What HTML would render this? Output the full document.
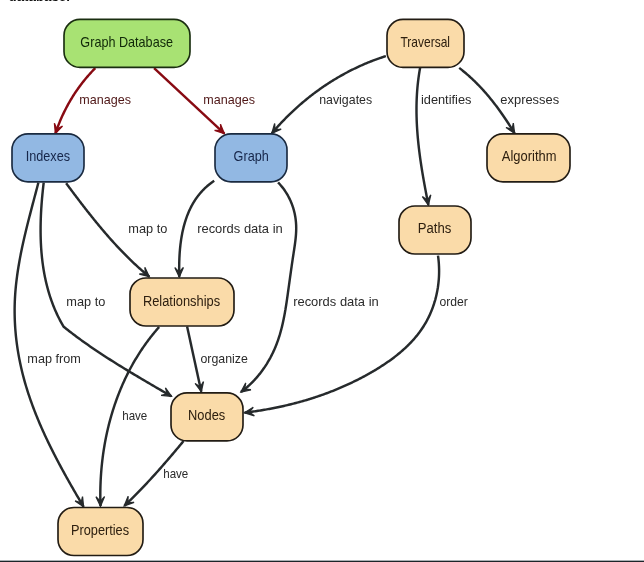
<!DOCTYPE html>
<html><head><meta charset="utf-8"><style>
html,body{margin:0;padding:0;background:#fff;width:644px;height:562px;overflow:hidden}
svg{display:block;will-change:transform}
text{font-family:"Liberation Sans", sans-serif}
</style></head><body>
<svg width="644" height="562" viewBox="0 0 644 562">
<text x="8.5" y="0.8" style="font-weight:bold;font-size:13px" fill="#111" textLength="61.5" lengthAdjust="spacingAndGlyphs">database.</text>

<path d="M95.30,68.10 L94.53,68.88 L93.77,69.66 L93.01,70.44 L92.26,71.23 L91.51,72.03 L90.77,72.83 L90.04,73.64 L89.31,74.45 L88.58,75.26 L87.87,76.08 L87.15,76.91 L86.45,77.74 L85.75,78.57 L85.05,79.41 L84.36,80.26 L83.68,81.11 L83.00,81.96 L82.33,82.82 L81.66,83.68 L81.00,84.55 L80.35,85.42 L79.70,86.30 L79.06,87.18 L78.42,88.06 L77.79,88.95 L77.16,89.84 L76.54,90.74 L75.93,91.64 L75.32,92.54 L74.72,93.45 L74.13,94.37 L73.54,95.28 L72.95,96.20 L72.38,97.13 L71.81,98.06 L71.24,98.99 L70.68,99.92 L70.13,100.86 L69.58,101.80 L69.04,102.75 L68.51,103.70 L67.98,104.65 L67.46,105.61 L66.94,106.57 L66.43,107.53 L65.93,108.50 L65.43,109.47 L64.94,110.44 L64.45,111.42 L63.98,112.40 L63.50,113.38 L63.04,114.37 L62.58,115.35 L62.12,116.35 L61.68,117.34 L61.24,118.34 L60.80,119.34 L60.37,120.34 L59.95,121.34 L59.54,122.35 L59.13,123.36 L58.73,124.38 L58.33,125.39 L57.94,126.41 L57.56,127.43 L57.18,128.45 L56.81,129.48 L56.45,130.50 L56.09,131.53 L55.74,132.57 L55.40,133.60" fill="none" stroke="#880a12" stroke-width="2.45" stroke-linecap="butt" stroke-linejoin="round"/>
<path d="M55.40,133.60 L54.41,123.31 L56.94,129.16 L62.54,126.13 Z" fill="#880a12" stroke="#880a12" stroke-width="1.3" stroke-linejoin="miter"/>
<path d="M154.10,68.10 L224.40,133.70" fill="none" stroke="#880a12" stroke-width="2.45" stroke-linecap="butt" stroke-linejoin="round"/>
<path d="M224.40,133.70 L214.59,130.43 L220.96,130.49 L220.46,124.14 Z" fill="#880a12" stroke="#880a12" stroke-width="1.3" stroke-linejoin="miter"/>
<path d="M385.90,56.10 L384.85,56.44 L383.80,56.78 L382.75,57.12 L381.70,57.47 L380.65,57.83 L379.61,58.19 L378.57,58.55 L377.53,58.92 L376.49,59.30 L375.46,59.68 L374.42,60.06 L373.39,60.45 L372.36,60.85 L371.34,61.24 L370.31,61.65 L369.29,62.06 L368.27,62.47 L367.25,62.89 L366.23,63.31 L365.22,63.74 L364.21,64.17 L363.20,64.61 L362.19,65.05 L361.19,65.50 L360.18,65.95 L359.18,66.40 L358.18,66.86 L357.19,67.33 L356.19,67.80 L355.20,68.27 L354.21,68.75 L353.23,69.23 L352.24,69.72 L351.26,70.21 L350.28,70.71 L349.30,71.21 L348.33,71.71 L347.35,72.22 L346.38,72.74 L345.41,73.25 L344.45,73.78 L343.49,74.30 L342.52,74.84 L341.57,75.37 L340.61,75.91 L339.66,76.46 L338.71,77.00 L337.76,77.56 L336.81,78.11 L335.87,78.68 L334.93,79.24 L333.99,79.81 L333.05,80.39 L332.12,80.96 L331.19,81.55 L330.26,82.13 L329.34,82.72 L328.42,83.32 L327.50,83.92 L326.58,84.52 L325.66,85.13 L324.75,85.74 L323.84,86.35 L322.94,86.97 L322.03,87.60 L321.13,88.22 L320.23,88.86 L319.34,89.49 L318.44,90.13 L317.55,90.77 L316.67,91.42 L315.78,92.07 L314.90,92.72 L314.02,93.38 L313.15,94.05 L312.27,94.71 L311.40,95.38 L310.54,96.06 L309.67,96.73 L308.81,97.41 L307.95,98.10 L307.10,98.79 L306.24,99.48 L305.39,100.18 L304.55,100.88 L303.70,101.58 L302.86,102.29 L302.02,103.00 L301.19,103.71 L300.36,104.43 L299.53,105.15 L298.70,105.88 L297.88,106.61 L297.06,107.34 L296.24,108.08 L295.43,108.82 L294.62,109.56 L293.81,110.31 L293.01,111.06 L292.20,111.81 L291.41,112.57 L290.61,113.33 L289.82,114.09 L289.03,114.86 L288.25,115.63 L287.46,116.40 L286.68,117.18 L285.91,117.96 L285.14,118.74 L284.37,119.53 L283.60,120.32 L282.84,121.11 L282.08,121.91 L281.32,122.71 L280.57,123.52 L279.82,124.32 L279.08,125.13 L278.33,125.94 L277.59,126.76 L276.86,127.58 L276.12,128.40 L275.40,129.23 L274.67,130.06 L273.95,130.89 L273.23,131.72 L272.51,132.56 L271.80,133.40" fill="none" stroke="#262a2c" stroke-width="2.45" stroke-linecap="butt" stroke-linejoin="round"/>
<path d="M271.80,133.40 L274.68,123.47 L274.87,129.84 L281.19,129.08 Z" fill="#262a2c" stroke="#262a2c" stroke-width="1.3" stroke-linejoin="miter"/>
<path d="M420.10,67.90 L419.91,68.98 L419.72,70.06 L419.53,71.15 L419.35,72.23 L419.18,73.31 L419.02,74.39 L418.85,75.48 L418.70,76.56 L418.55,77.64 L418.41,78.73 L418.27,79.81 L418.14,80.89 L418.01,81.98 L417.89,83.06 L417.77,84.14 L417.66,85.23 L417.55,86.31 L417.45,87.40 L417.36,88.48 L417.27,89.57 L417.18,90.65 L417.10,91.73 L417.03,92.82 L416.96,93.90 L416.90,94.99 L416.84,96.07 L416.78,97.16 L416.73,98.24 L416.69,99.33 L416.65,100.41 L416.61,101.50 L416.58,102.58 L416.55,103.67 L416.53,104.75 L416.51,105.84 L416.50,106.92 L416.49,108.01 L416.49,109.09 L416.49,110.18 L416.49,111.26 L416.50,112.35 L416.51,113.43 L416.53,114.52 L416.55,115.60 L416.58,116.69 L416.61,117.77 L416.64,118.85 L416.68,119.94 L416.72,121.02 L416.76,122.11 L416.81,123.19 L416.87,124.28 L416.92,125.36 L416.98,126.45 L417.05,127.53 L417.11,128.61 L417.18,129.70 L417.26,130.78 L417.34,131.86 L417.42,132.95 L417.50,134.03 L417.59,135.11 L417.68,136.20 L417.78,137.28 L417.87,138.36 L417.98,139.45 L418.08,140.53 L418.19,141.61 L418.30,142.69 L418.41,143.77 L418.53,144.86 L418.65,145.94 L418.77,147.02 L418.89,148.10 L419.02,149.18 L419.15,150.26 L419.28,151.34 L419.42,152.42 L419.56,153.50 L419.70,154.58 L419.84,155.66 L419.99,156.74 L420.14,157.82 L420.29,158.90 L420.44,159.98 L420.60,161.06 L420.75,162.14 L420.91,163.21 L421.08,164.29 L421.24,165.37 L421.41,166.45 L421.57,167.52 L421.74,168.60 L421.92,169.68 L422.09,170.75 L422.27,171.83 L422.44,172.90 L422.62,173.98 L422.80,175.05 L422.99,176.13 L423.17,177.20 L423.36,178.28 L423.55,179.35 L423.73,180.42 L423.93,181.50 L424.12,182.57 L424.31,183.64 L424.51,184.71 L424.70,185.78 L424.90,186.85 L425.10,187.93 L425.30,189.00 L425.50,190.07 L425.70,191.13 L425.90,192.20 L426.11,193.27 L426.31,194.34 L426.52,195.41 L426.72,196.48 L426.93,197.54 L427.14,198.61 L427.35,199.68 L427.56,200.74 L427.77,201.81 L427.98,202.87 L428.19,203.94 L428.40,205.00" fill="none" stroke="#262a2c" stroke-width="2.45" stroke-linecap="butt" stroke-linejoin="round"/>
<path d="M428.40,205.00 L422.36,196.61 L427.49,200.39 L430.79,194.94 Z" fill="#262a2c" stroke="#262a2c" stroke-width="1.3" stroke-linejoin="miter"/>
<path d="M459.20,67.90 L460.17,68.65 L461.13,69.40 L462.09,70.16 L463.04,70.93 L463.99,71.70 L464.92,72.48 L465.86,73.27 L466.78,74.06 L467.70,74.86 L468.61,75.66 L469.52,76.47 L470.42,77.29 L471.31,78.11 L472.20,78.94 L473.08,79.77 L473.96,80.61 L474.83,81.45 L475.69,82.30 L476.55,83.16 L477.40,84.02 L478.25,84.89 L479.09,85.76 L479.93,86.63 L480.76,87.52 L481.58,88.40 L482.40,89.29 L483.22,90.19 L484.03,91.09 L484.83,92.00 L485.63,92.91 L486.42,93.82 L487.21,94.74 L488.00,95.66 L488.77,96.59 L489.55,97.52 L490.32,98.46 L491.08,99.40 L491.84,100.35 L492.59,101.29 L493.34,102.25 L494.09,103.20 L494.83,104.16 L495.57,105.13 L496.30,106.09 L497.03,107.06 L497.75,108.04 L498.47,109.02 L499.18,110.00 L499.89,110.98 L500.60,111.97 L501.30,112.96 L502.00,113.95 L502.70,114.95 L503.39,115.95 L504.08,116.95 L504.76,117.95 L505.44,118.96 L506.12,119.97 L506.79,120.98 L507.46,122.00 L508.12,123.02 L508.78,124.03 L509.44,125.06 L510.10,126.08 L510.75,127.11 L511.40,128.13 L512.05,129.16 L512.69,130.20 L513.33,131.23 L513.97,132.26 L514.60,133.30" fill="none" stroke="#262a2c" stroke-width="2.45" stroke-linecap="butt" stroke-linejoin="round"/>
<path d="M514.60,133.30 L506.00,127.57 L512.13,129.30 L513.31,123.04 Z" fill="#262a2c" stroke="#262a2c" stroke-width="1.3" stroke-linejoin="miter"/>
<path d="M66.10,183.20 L66.73,184.04 L67.36,184.88 L67.98,185.73 L68.61,186.57 L69.24,187.41 L69.87,188.25 L70.50,189.10 L71.13,189.94 L71.77,190.78 L72.40,191.62 L73.03,192.47 L73.66,193.31 L74.30,194.15 L74.93,194.99 L75.57,195.83 L76.21,196.67 L76.84,197.51 L77.48,198.35 L78.12,199.19 L78.76,200.03 L79.40,200.87 L80.04,201.71 L80.68,202.55 L81.32,203.38 L81.97,204.22 L82.61,205.06 L83.26,205.89 L83.90,206.73 L84.55,207.56 L85.20,208.39 L85.85,209.23 L86.50,210.06 L87.15,210.89 L87.80,211.72 L88.46,212.55 L89.11,213.38 L89.77,214.21 L90.43,215.04 L91.08,215.86 L91.74,216.69 L92.40,217.51 L93.07,218.34 L93.73,219.16 L94.39,219.98 L95.06,220.80 L95.73,221.62 L96.40,222.44 L97.07,223.26 L97.74,224.07 L98.41,224.89 L99.08,225.70 L99.76,226.52 L100.43,227.33 L101.11,228.14 L101.79,228.94 L102.47,229.75 L103.16,230.56 L103.84,231.36 L104.53,232.16 L105.21,232.97 L105.90,233.77 L106.59,234.56 L107.29,235.36 L107.98,236.16 L108.68,236.95 L109.37,237.74 L110.07,238.53 L110.77,239.32 L111.48,240.11 L112.18,240.89 L112.89,241.68 L113.60,242.46 L114.31,243.24 L115.02,244.02 L115.73,244.79 L116.45,245.57 L117.16,246.34 L117.88,247.11 L118.61,247.88 L119.33,248.65 L120.05,249.41 L120.78,250.17 L121.51,250.93 L122.24,251.69 L122.98,252.45 L123.71,253.20 L124.45,253.95 L125.19,254.70 L125.93,255.45 L126.68,256.20 L127.42,256.94 L128.17,257.68 L128.92,258.42 L129.68,259.15 L130.43,259.89 L131.19,260.62 L131.95,261.35 L132.71,262.07 L133.48,262.80 L134.24,263.52 L135.01,264.23 L135.79,264.95 L136.56,265.66 L137.34,266.37 L138.12,267.08 L138.90,267.79 L139.68,268.49 L140.47,269.19 L141.26,269.89 L142.05,270.58 L142.85,271.27 L143.64,271.96 L144.44,272.65 L145.25,273.33 L146.05,274.01 L146.86,274.69 L147.67,275.36 L148.48,276.03 L149.30,276.70" fill="none" stroke="#262a2c" stroke-width="2.45" stroke-linecap="butt" stroke-linejoin="round"/>
<path d="M149.30,276.70 L139.32,274.00 L145.68,273.70 L144.82,267.39 Z" fill="#262a2c" stroke="#262a2c" stroke-width="1.3" stroke-linejoin="miter"/>
<path d="M43.70,182.60 L43.53,184.01 L43.37,185.42 L43.21,186.84 L43.05,188.26 L42.90,189.68 L42.75,191.10 L42.60,192.52 L42.46,193.95 L42.33,195.37 L42.19,196.80 L42.06,198.23 L41.94,199.66 L41.82,201.10 L41.71,202.53 L41.60,203.96 L41.49,205.40 L41.40,206.84 L41.30,208.28 L41.21,209.72 L41.13,211.16 L41.05,212.60 L40.98,214.04 L40.91,215.49 L40.85,216.93 L40.80,218.38 L40.75,219.82 L40.71,221.27 L40.67,222.71 L40.64,224.16 L40.62,225.60 L40.60,227.05 L40.59,228.50 L40.59,229.94 L40.59,231.39 L40.60,232.83 L40.62,234.28 L40.64,235.73 L40.68,237.17 L40.71,238.61 L40.76,240.06 L40.82,241.50 L40.88,242.94 L40.95,244.39 L41.03,245.83 L41.11,247.27 L41.21,248.71 L41.31,250.14 L41.42,251.58 L41.54,253.02 L41.67,254.45 L41.81,255.88 L41.95,257.32 L42.11,258.75 L42.27,260.17 L42.45,261.60 L42.63,263.03 L42.82,264.45 L43.02,265.87 L43.23,267.29 L43.45,268.71 L43.68,270.12 L43.92,271.54 L44.17,272.95 L44.43,274.36 L44.70,275.76 L44.98,277.17 L45.28,278.57 L45.58,279.97 L45.89,281.36 L46.21,282.76 L46.55,284.15 L46.89,285.53 L47.25,286.92 L47.61,288.30 L47.99,289.68 L48.38,291.05 L48.78,292.42 L49.20,293.79 L49.62,295.16 L50.06,296.52 L50.51,297.88 L50.97,299.23 L51.44,300.58 L51.92,301.93 L52.42,303.27 L52.93,304.61 L53.45,305.95 L53.99,307.28 L54.53,308.60 L55.09,309.93 L55.67,311.24 L56.25,312.56 L56.85,313.87 L57.47,315.17 L58.09,316.47 L58.73,317.77 L59.39,319.06 L60.05,320.35 L60.74,321.63 L61.43,322.90 L62.14,324.17 L62.86,325.44 L63.60,326.70 L65.02,327.83 L66.44,328.96 L67.86,330.08 L69.29,331.19 L70.72,332.29 L72.16,333.39 L73.60,334.49 L75.05,335.58 L76.50,336.66 L77.95,337.73 L79.41,338.80 L80.87,339.87 L82.34,340.92 L83.81,341.98 L85.28,343.02 L86.76,344.07 L88.24,345.10 L89.73,346.14 L91.21,347.16 L92.71,348.19 L94.20,349.20 L95.70,350.22 L97.20,351.22 L98.70,352.23 L100.21,353.23 L101.72,354.22 L103.23,355.21 L104.74,356.20 L106.26,357.18 L107.78,358.16 L109.31,359.14 L110.83,360.11 L112.36,361.08 L113.89,362.05 L115.42,363.01 L116.95,363.97 L118.49,364.92 L120.03,365.87 L121.57,366.82 L123.11,367.77 L124.65,368.72 L126.20,369.66 L127.75,370.60 L129.29,371.53 L130.84,372.47 L132.39,373.40 L133.95,374.33 L135.50,375.26 L137.06,376.18 L138.61,377.11 L140.17,378.03 L141.73,378.95 L143.28,379.87 L144.84,380.79 L146.40,381.71 L147.96,382.62 L149.53,383.54 L151.09,384.45 L152.65,385.37 L154.21,386.28 L155.78,387.19 L157.34,388.10 L158.90,389.01 L160.46,389.93 L162.03,390.84 L163.59,391.75 L165.15,392.66 L166.72,393.57 L168.28,394.48 L169.84,395.39 L171.40,396.30" fill="none" stroke="#262a2c" stroke-width="2.45" stroke-linecap="butt" stroke-linejoin="round"/>
<path d="M171.40,396.30 L161.11,395.28 L167.34,393.93 L165.45,387.85 Z" fill="#262a2c" stroke="#262a2c" stroke-width="1.3" stroke-linejoin="miter"/>
<path d="M38.40,182.60 L38.02,184.06 L37.64,185.53 L37.25,186.99 L36.87,188.46 L36.48,189.93 L36.09,191.39 L35.70,192.86 L35.31,194.34 L34.92,195.81 L34.53,197.28 L34.14,198.76 L33.75,200.24 L33.36,201.71 L32.96,203.19 L32.57,204.67 L32.18,206.16 L31.79,207.64 L31.40,209.12 L31.01,210.61 L30.62,212.09 L30.24,213.58 L29.85,215.07 L29.47,216.56 L29.09,218.05 L28.70,219.54 L28.33,221.04 L27.95,222.53 L27.57,224.02 L27.20,225.52 L26.83,227.02 L26.46,228.51 L26.10,230.01 L25.74,231.51 L25.38,233.01 L25.02,234.51 L24.67,236.02 L24.32,237.52 L23.98,239.02 L23.64,240.53 L23.30,242.03 L22.97,243.54 L22.64,245.04 L22.31,246.55 L21.99,248.06 L21.68,249.57 L21.37,251.08 L21.06,252.59 L20.76,254.10 L20.47,255.61 L20.18,257.12 L19.89,258.63 L19.62,260.14 L19.34,261.66 L19.08,263.17 L18.82,264.69 L18.56,266.20 L18.32,267.72 L18.08,269.23 L17.84,270.75 L17.62,272.26 L17.40,273.78 L17.18,275.30 L16.98,276.81 L16.78,278.33 L16.59,279.85 L16.41,281.37 L16.23,282.89 L16.07,284.41 L15.91,285.93 L15.76,287.45 L15.62,288.96 L15.49,290.48 L15.36,292.00 L15.25,293.52 L15.15,295.04 L15.05,296.57 L14.96,298.09 L14.89,299.61 L14.82,301.13 L14.76,302.65 L14.72,304.17 L14.68,305.69 L14.65,307.21 L14.63,308.73 L14.62,310.25 L14.63,311.77 L14.64,313.29 L14.66,314.81 L14.69,316.33 L14.73,317.85 L14.78,319.36 L14.84,320.88 L14.90,322.40 L14.98,323.92 L15.07,325.43 L15.16,326.95 L15.27,328.47 L15.38,329.98 L15.51,331.49 L15.64,333.01 L15.78,334.52 L15.93,336.03 L16.09,337.54 L16.26,339.05 L16.44,340.56 L16.63,342.07 L16.82,343.58 L17.03,345.09 L17.24,346.59 L17.46,348.10 L17.69,349.60 L17.93,351.10 L18.18,352.60 L18.44,354.10 L18.70,355.60 L18.98,357.10 L19.26,358.60 L19.55,360.09 L19.85,361.58 L20.16,363.08 L20.48,364.57 L20.80,366.06 L21.13,367.54 L21.48,369.03 L21.82,370.51 L22.18,372.00 L22.55,373.48 L22.92,374.96 L23.30,376.43 L23.69,377.91 L24.09,379.38 L24.50,380.86 L24.91,382.33 L25.34,383.79 L25.76,385.26 L26.20,386.73 L26.65,388.19 L27.10,389.65 L27.56,391.11 L28.03,392.56 L28.50,394.02 L28.98,395.47 L29.47,396.92 L29.97,398.37 L30.47,399.82 L30.98,401.27 L31.49,402.71 L32.01,404.15 L32.54,405.59 L33.08,407.03 L33.62,408.47 L34.17,409.90 L34.72,411.33 L35.28,412.77 L35.85,414.19 L36.42,415.62 L37.00,417.05 L37.58,418.47 L38.17,419.89 L38.76,421.31 L39.36,422.73 L39.97,424.14 L40.58,425.55 L41.20,426.97 L41.82,428.38 L42.44,429.78 L43.07,431.19 L43.71,432.59 L44.35,433.99 L44.99,435.39 L45.64,436.79 L46.30,438.19 L46.96,439.58 L47.62,440.97 L48.29,442.37 L48.96,443.75 L49.64,445.14 L50.32,446.52 L51.00,447.91 L51.69,449.29 L52.38,450.67 L53.07,452.04 L53.77,453.42 L54.47,454.79 L55.18,456.16 L55.88,457.53 L56.60,458.90 L57.31,460.26 L58.03,461.63 L58.75,462.99 L59.47,464.35 L60.20,465.70 L60.93,467.06 L61.66,468.41 L62.39,469.76 L63.13,471.11 L63.87,472.46 L64.61,473.81 L65.35,475.15 L66.10,476.49 L66.84,477.83 L67.59,479.17 L68.34,480.50 L69.09,481.84 L69.85,483.17 L70.60,484.50 L71.36,485.83 L72.12,487.15 L72.88,488.48 L73.64,489.80 L74.40,491.12 L75.16,492.43 L75.93,493.75 L76.69,495.06 L77.46,496.38 L78.22,497.69 L78.99,498.99 L79.76,500.30 L80.53,501.60 L81.29,502.91 L82.06,504.21 L82.83,505.50 L83.60,506.80" fill="none" stroke="#262a2c" stroke-width="2.45" stroke-linecap="butt" stroke-linejoin="round"/>
<path d="M83.60,506.80 L75.11,500.90 L81.21,502.75 L82.52,496.52 Z" fill="#262a2c" stroke="#262a2c" stroke-width="1.3" stroke-linejoin="miter"/>
<path d="M214.20,180.80 L213.50,181.27 L212.81,181.74 L212.13,182.22 L211.46,182.71 L210.80,183.21 L210.15,183.71 L209.50,184.21 L208.87,184.72 L208.24,185.24 L207.62,185.77 L207.01,186.29 L206.41,186.83 L205.81,187.37 L205.23,187.92 L204.65,188.47 L204.08,189.03 L203.52,189.59 L202.96,190.16 L202.42,190.73 L201.88,191.31 L201.35,191.90 L200.83,192.49 L200.32,193.08 L199.81,193.68 L199.31,194.29 L198.82,194.90 L198.34,195.51 L197.87,196.13 L197.40,196.75 L196.94,197.38 L196.48,198.02 L196.04,198.65 L195.60,199.30 L195.17,199.94 L194.75,200.59 L194.33,201.25 L193.92,201.91 L193.52,202.57 L193.12,203.24 L192.73,203.91 L192.35,204.59 L191.97,205.27 L191.60,205.95 L191.24,206.64 L190.89,207.33 L190.54,208.02 L190.20,208.72 L189.86,209.42 L189.53,210.13 L189.21,210.84 L188.89,211.55 L188.58,212.26 L188.28,212.98 L187.98,213.70 L187.69,214.43 L187.40,215.16 L187.12,215.89 L186.85,216.62 L186.58,217.36 L186.32,218.10 L186.06,218.84 L185.81,219.58 L185.57,220.33 L185.33,221.08 L185.09,221.83 L184.86,222.59 L184.64,223.34 L184.42,224.10 L184.21,224.86 L184.00,225.63 L183.80,226.39 L183.60,227.16 L183.41,227.93 L183.23,228.70 L183.05,229.47 L182.87,230.25 L182.70,231.03 L182.53,231.80 L182.37,232.59 L182.21,233.37 L182.06,234.15 L181.91,234.93 L181.77,235.72 L181.63,236.51 L181.50,237.30 L181.37,238.09 L181.24,238.88 L181.12,239.67 L181.00,240.46 L180.89,241.25 L180.78,242.05 L180.68,242.84 L180.58,243.64 L180.48,244.44 L180.39,245.23 L180.30,246.03 L180.21,246.83 L180.13,247.63 L180.06,248.43 L179.98,249.23 L179.91,250.03 L179.85,250.83 L179.78,251.63 L179.72,252.43 L179.67,253.23 L179.61,254.03 L179.57,254.82 L179.52,255.62 L179.48,256.42 L179.44,257.22 L179.40,258.02 L179.37,258.82 L179.34,259.62 L179.31,260.41 L179.28,261.21 L179.26,262.00 L179.24,262.80 L179.22,263.59 L179.21,264.39 L179.20,265.18 L179.19,265.97 L179.18,266.76 L179.18,267.55 L179.18,268.33 L179.18,269.12 L179.18,269.91 L179.19,270.69 L179.19,271.47 L179.20,272.25 L179.21,273.03 L179.23,273.81 L179.24,274.58 L179.26,275.36 L179.28,276.13 L179.30,276.90" fill="none" stroke="#262a2c" stroke-width="2.45" stroke-linecap="butt" stroke-linejoin="round"/>
<path d="M179.30,276.90 L174.82,267.59 L179.21,272.20 L183.41,267.42 Z" fill="#262a2c" stroke="#262a2c" stroke-width="1.3" stroke-linejoin="miter"/>
<path d="M278.10,182.40 L278.75,183.09 L279.39,183.79 L280.02,184.49 L280.64,185.20 L281.24,185.92 L281.83,186.64 L282.41,187.37 L282.98,188.10 L283.53,188.84 L284.07,189.58 L284.60,190.33 L285.12,191.09 L285.62,191.85 L286.12,192.61 L286.60,193.38 L287.06,194.16 L287.52,194.94 L287.97,195.72 L288.40,196.51 L288.82,197.30 L289.23,198.10 L289.62,198.90 L290.01,199.71 L290.38,200.51 L290.74,201.33 L291.09,202.15 L291.42,202.97 L291.75,203.79 L292.06,204.62 L292.37,205.45 L292.66,206.29 L292.93,207.12 L293.20,207.96 L293.46,208.81 L293.70,209.66 L293.93,210.51 L294.15,211.36 L294.36,212.21 L294.56,213.07 L294.75,213.93 L294.92,214.79 L295.08,215.66 L295.24,216.53 L295.38,217.39 L295.51,218.27 L295.63,219.14 L295.73,220.01 L295.83,220.89 L295.92,221.77 L295.99,222.64 L296.05,223.52 L296.10,224.41 L296.15,225.29 L296.18,226.17 L296.19,227.06 L296.20,227.94 L296.20,228.83 L296.19,229.72 L296.17,230.60 L296.14,231.49 L296.10,232.38 L296.05,233.27 L295.99,234.16 L295.93,235.05 L295.86,235.94 L295.78,236.83 L295.70,237.73 L295.61,238.62 L295.51,239.51 L295.41,240.41 L295.30,241.30 L295.19,242.19 L295.07,243.09 L294.95,243.98 L294.83,244.88 L294.71,245.77 L294.58,246.67 L294.44,247.56 L294.31,248.46 L294.18,249.35 L294.04,250.25 L293.90,251.14 L293.76,252.04 L293.63,252.93 L293.49,253.83 L293.35,254.72 L293.22,255.62 L293.08,256.51 L292.95,257.40 L292.81,258.30 L292.68,259.19 L292.55,260.08 L292.41,260.98 L292.28,261.87 L292.15,262.76 L292.02,263.65 L291.89,264.55 L291.76,265.44 L291.63,266.33 L291.51,267.22 L291.38,268.11 L291.25,269.01 L291.12,269.90 L291.00,270.79 L290.87,271.68 L290.75,272.57 L290.62,273.46 L290.50,274.35 L290.37,275.24 L290.25,276.13 L290.12,277.03 L290.00,277.92 L289.87,278.81 L289.75,279.70 L289.63,280.59 L289.50,281.48 L289.38,282.37 L289.26,283.26 L289.13,284.15 L289.01,285.04 L288.89,285.93 L288.76,286.82 L288.64,287.71 L288.52,288.60 L288.39,289.49 L288.27,290.38 L288.15,291.27 L288.02,292.17 L287.90,293.06 L287.78,293.95 L287.65,294.84 L287.53,295.73 L287.40,296.62 L287.27,297.51 L287.14,298.40 L287.02,299.29 L286.89,300.18 L286.75,301.07 L286.62,301.96 L286.49,302.84 L286.35,303.73 L286.22,304.62 L286.08,305.51 L285.94,306.39 L285.80,307.28 L285.65,308.17 L285.50,309.05 L285.36,309.94 L285.20,310.82 L285.05,311.70 L284.90,312.59 L284.74,313.47 L284.58,314.35 L284.41,315.23 L284.25,316.11 L284.08,316.99 L283.90,317.87 L283.73,318.74 L283.55,319.62 L283.36,320.49 L283.18,321.37 L282.99,322.24 L282.79,323.11 L282.60,323.98 L282.39,324.85 L282.19,325.72 L281.98,326.59 L281.77,327.45 L281.55,328.32 L281.33,329.18 L281.10,330.04 L280.87,330.90 L280.63,331.76 L280.39,332.62 L280.14,333.48 L279.89,334.33 L279.64,335.19 L279.37,336.04 L279.11,336.89 L278.84,337.74 L278.56,338.58 L278.27,339.43 L277.99,340.27 L277.69,341.12 L277.39,341.96 L277.08,342.79 L276.77,343.63 L276.45,344.47 L276.12,345.30 L275.79,346.13 L275.45,346.96 L275.11,347.78 L274.76,348.61 L274.40,349.43 L274.03,350.25 L273.66,351.07 L273.28,351.89 L272.90,352.70 L272.50,353.51 L272.11,354.32 L271.70,355.13 L271.29,355.93 L270.87,356.73 L270.45,357.53 L270.01,358.32 L269.58,359.11 L269.13,359.90 L268.68,360.68 L268.22,361.47 L267.76,362.24 L267.29,363.02 L266.82,363.79 L266.33,364.55 L265.84,365.32 L265.35,366.07 L264.85,366.83 L264.34,367.58 L263.83,368.32 L263.31,369.07 L262.79,369.80 L262.26,370.54 L261.72,371.26 L261.18,371.99 L260.63,372.71 L260.08,373.42 L259.52,374.13 L258.95,374.83 L258.38,375.53 L257.80,376.22 L257.22,376.91 L256.63,377.59 L256.04,378.27 L255.44,378.94 L254.83,379.61 L254.22,380.27 L253.61,380.92 L252.98,381.57 L252.36,382.21 L251.72,382.85 L251.09,383.47 L250.44,384.10 L249.80,384.71 L249.14,385.32 L248.48,385.93 L247.82,386.52 L247.15,387.11 L246.48,387.70 L245.80,388.27 L245.11,388.84 L244.42,389.40 L243.73,389.96 L243.03,390.50 L242.32,391.04 L241.61,391.58 L240.90,392.10" fill="none" stroke="#262a2c" stroke-width="2.45" stroke-linecap="butt" stroke-linejoin="round"/>
<path d="M240.90,392.10 L245.70,382.95 L244.62,389.22 L250.97,389.75 Z" fill="#262a2c" stroke="#262a2c" stroke-width="1.3" stroke-linejoin="miter"/>
<path d="M187.10,326.60 L201.30,391.70" fill="none" stroke="#262a2c" stroke-width="2.45" stroke-linecap="butt" stroke-linejoin="round"/>
<path d="M201.30,391.70 L195.10,383.43 L200.30,387.11 L203.50,381.60 Z" fill="#262a2c" stroke="#262a2c" stroke-width="1.3" stroke-linejoin="miter"/>
<path d="M159.10,327.00 L158.33,327.88 L157.56,328.76 L156.80,329.64 L156.05,330.53 L155.30,331.42 L154.55,332.31 L153.81,333.21 L153.08,334.11 L152.35,335.02 L151.62,335.93 L150.91,336.84 L150.19,337.76 L149.49,338.68 L148.79,339.60 L148.09,340.53 L147.40,341.46 L146.71,342.39 L146.03,343.33 L145.36,344.27 L144.69,345.21 L144.02,346.16 L143.36,347.11 L142.71,348.06 L142.06,349.02 L141.42,349.98 L140.78,350.94 L140.15,351.91 L139.52,352.88 L138.90,353.85 L138.28,354.82 L137.67,355.80 L137.06,356.78 L136.46,357.77 L135.87,358.75 L135.28,359.74 L134.69,360.74 L134.11,361.73 L133.54,362.73 L132.97,363.73 L132.40,364.74 L131.84,365.75 L131.29,366.76 L130.74,367.77 L130.20,368.78 L129.66,369.80 L129.12,370.82 L128.60,371.85 L128.07,372.87 L127.55,373.90 L127.04,374.93 L126.53,375.97 L126.03,377.00 L125.53,378.04 L125.04,379.08 L124.55,380.13 L124.07,381.17 L123.59,382.22 L123.12,383.27 L122.65,384.32 L122.19,385.38 L121.73,386.44 L121.28,387.50 L120.84,388.56 L120.39,389.62 L119.96,390.69 L119.52,391.76 L119.10,392.83 L118.68,393.90 L118.26,394.97 L117.85,396.05 L117.44,397.13 L117.04,398.21 L116.64,399.29 L116.25,400.38 L115.86,401.46 L115.48,402.55 L115.10,403.64 L114.73,404.73 L114.36,405.83 L114.00,406.92 L113.64,408.02 L113.29,409.12 L112.94,410.22 L112.60,411.32 L112.26,412.43 L111.93,413.53 L111.60,414.64 L111.28,415.75 L110.96,416.86 L110.64,417.97 L110.33,419.08 L110.03,420.20 L109.73,421.32 L109.44,422.43 L109.15,423.55 L108.86,424.67 L108.58,425.79 L108.31,426.92 L108.04,428.04 L107.77,429.17 L107.51,430.29 L107.25,431.42 L107.00,432.55 L106.76,433.68 L106.51,434.81 L106.28,435.95 L106.04,437.08 L105.82,438.22 L105.59,439.35 L105.38,440.49 L105.16,441.63 L104.95,442.76 L104.75,443.90 L104.55,445.04 L104.36,446.19 L104.17,447.33 L103.98,448.47 L103.80,449.62 L103.62,450.76 L103.45,451.91 L103.28,453.05 L103.12,454.20 L102.96,455.35 L102.81,456.49 L102.66,457.64 L102.52,458.79 L102.38,459.94 L102.25,461.09 L102.12,462.24 L101.99,463.39 L101.87,464.55 L101.75,465.70 L101.64,466.85 L101.53,468.00 L101.43,469.16 L101.33,470.31 L101.24,471.47 L101.15,472.62 L101.07,473.77 L100.99,474.93 L100.91,476.08 L100.84,477.24 L100.77,478.39 L100.71,479.55 L100.65,480.71 L100.60,481.86 L100.55,483.02 L100.51,484.17 L100.47,485.33 L100.43,486.48 L100.40,487.64 L100.37,488.79 L100.35,489.95 L100.33,491.11 L100.32,492.26 L100.31,493.42 L100.31,494.57 L100.31,495.72 L100.31,496.88 L100.32,498.03 L100.33,499.19 L100.35,500.34 L100.37,501.49 L100.40,502.64 L100.43,503.80 L100.46,504.95 L100.50,506.10" fill="none" stroke="#262a2c" stroke-width="2.45" stroke-linecap="butt" stroke-linejoin="round"/>
<path d="M100.50,506.10 L95.96,496.82 L100.38,501.40 L104.55,496.59 Z" fill="#262a2c" stroke="#262a2c" stroke-width="1.3" stroke-linejoin="miter"/>
<path d="M183.60,441.00 L182.71,442.07 L181.82,443.15 L180.92,444.22 L180.03,445.29 L179.13,446.36 L178.24,447.44 L177.34,448.51 L176.44,449.57 L175.54,450.64 L174.64,451.71 L173.74,452.77 L172.84,453.84 L171.94,454.90 L171.03,455.97 L170.13,457.03 L169.22,458.09 L168.31,459.15 L167.40,460.20 L166.49,461.26 L165.58,462.31 L164.66,463.37 L163.75,464.42 L162.83,465.47 L161.91,466.52 L160.99,467.57 L160.07,468.61 L159.14,469.66 L158.22,470.70 L157.29,471.74 L156.36,472.78 L155.42,473.81 L154.49,474.85 L153.55,475.88 L152.62,476.91 L151.67,477.94 L150.73,478.97 L149.79,479.99 L148.84,481.02 L147.89,482.04 L146.94,483.06 L145.98,484.07 L145.03,485.09 L144.07,486.10 L143.11,487.11 L142.14,488.12 L141.18,489.12 L140.21,490.12 L139.23,491.12 L138.26,492.12 L137.28,493.12 L136.30,494.11 L135.32,495.10 L134.33,496.09 L133.34,497.07 L132.35,498.05 L131.35,499.03 L130.36,500.01 L129.35,500.98 L128.35,501.95 L127.34,502.92 L126.33,503.88 L125.32,504.84 L124.30,505.80" fill="none" stroke="#262a2c" stroke-width="2.45" stroke-linecap="butt" stroke-linejoin="round"/>
<path d="M124.30,505.80 L128.15,496.21 L127.71,502.56 L134.08,502.44 Z" fill="#262a2c" stroke="#262a2c" stroke-width="1.3" stroke-linejoin="miter"/>
<path d="M438.00,255.60 L438.17,256.88 L438.33,258.15 L438.47,259.43 L438.60,260.71 L438.72,261.98 L438.82,263.26 L438.90,264.53 L438.97,265.81 L439.02,267.08 L439.06,268.35 L439.09,269.62 L439.10,270.89 L439.09,272.16 L439.07,273.43 L439.04,274.69 L438.99,275.95 L438.93,277.21 L438.85,278.47 L438.76,279.73 L438.65,280.98 L438.53,282.23 L438.40,283.47 L438.25,284.72 L438.08,285.96 L437.91,287.20 L437.71,288.43 L437.51,289.66 L437.29,290.89 L437.05,292.11 L436.80,293.33 L436.54,294.54 L436.26,295.75 L435.97,296.96 L435.66,298.16 L435.35,299.36 L435.01,300.55 L434.67,301.73 L434.30,302.91 L433.93,304.09 L433.54,305.26 L433.14,306.42 L432.72,307.58 L432.29,308.73 L431.85,309.88 L431.39,311.02 L430.92,312.15 L430.44,313.28 L429.94,314.40 L429.43,315.52 L428.91,316.62 L428.37,317.72 L427.82,318.81 L427.25,319.90 L426.68,320.98 L426.09,322.05 L425.48,323.11 L424.86,324.16 L424.23,325.21 L423.59,326.24 L422.93,327.27 L422.26,328.29 L421.58,329.30 L420.89,330.31 L420.18,331.30 L419.46,332.29 L418.72,333.26 L417.98,334.23 L417.22,335.19 L416.45,336.14 L415.67,337.09 L414.88,338.02 L414.08,338.95 L413.27,339.87 L412.44,340.78 L411.61,341.68 L410.76,342.58 L409.91,343.47 L409.04,344.35 L408.17,345.22 L407.28,346.08 L406.39,346.94 L405.49,347.79 L404.58,348.63 L403.66,349.47 L402.73,350.29 L401.79,351.11 L400.85,351.93 L399.89,352.73 L398.93,353.53 L397.97,354.32 L396.99,355.10 L396.01,355.88 L395.02,356.65 L394.02,357.42 L393.02,358.17 L392.01,358.92 L391.00,359.67 L389.97,360.41 L388.95,361.14 L387.91,361.86 L386.88,362.58 L385.83,363.29 L384.79,364.00 L383.73,364.70 L382.68,365.39 L381.62,366.08 L380.55,366.76 L379.48,367.44 L378.41,368.10 L377.33,368.77 L376.25,369.43 L375.17,370.08 L374.08,370.73 L372.99,371.37 L371.90,372.00 L370.80,372.64 L369.71,373.26 L368.61,373.88 L367.51,374.50 L366.41,375.10 L365.30,375.71 L364.20,376.31 L363.09,376.90 L361.98,377.49 L360.87,378.07 L359.75,378.65 L358.64,379.23 L357.52,379.79 L356.40,380.36 L355.28,380.91 L354.15,381.47 L353.03,382.01 L351.90,382.56 L350.77,383.10 L349.64,383.63 L348.51,384.16 L347.38,384.68 L346.24,385.20 L345.10,385.71 L343.96,386.22 L342.82,386.72 L341.68,387.22 L340.53,387.71 L339.39,388.20 L338.24,388.68 L337.09,389.16 L335.94,389.63 L334.79,390.10 L333.63,390.57 L332.48,391.03 L331.32,391.48 L330.16,391.93 L329.00,392.38 L327.84,392.82 L326.67,393.25 L325.51,393.68 L324.34,394.11 L323.17,394.53 L322.00,394.95 L320.83,395.36 L319.66,395.77 L318.48,396.17 L317.31,396.57 L316.13,396.96 L314.95,397.35 L313.77,397.74 L312.59,398.12 L311.40,398.49 L310.22,398.87 L309.03,399.23 L307.85,399.60 L306.66,399.95 L305.47,400.31 L304.28,400.66 L303.08,401.00 L301.89,401.34 L300.69,401.68 L299.50,402.01 L298.30,402.34 L297.10,402.66 L295.90,402.98 L294.70,403.29 L293.50,403.60 L292.29,403.91 L291.09,404.21 L289.88,404.51 L288.67,404.80 L287.46,405.09 L286.25,405.38 L285.04,405.66 L283.83,405.94 L282.62,406.21 L281.40,406.48 L280.19,406.74 L278.97,407.00 L277.75,407.26 L276.53,407.51 L275.31,407.76 L274.09,408.00 L272.87,408.24 L271.65,408.48 L270.42,408.71 L269.20,408.94 L267.97,409.16 L266.74,409.39 L265.51,409.60 L264.29,409.81 L263.06,410.02 L261.82,410.23 L260.59,410.43 L259.36,410.63 L258.13,410.82 L256.89,411.01 L255.66,411.20 L254.42,411.38 L253.18,411.56 L251.94,411.73 L250.71,411.90 L249.47,412.07 L248.23,412.23 L246.98,412.39 L245.74,412.55 L244.50,412.70" fill="none" stroke="#262a2c" stroke-width="2.45" stroke-linecap="butt" stroke-linejoin="round"/>
<path d="M244.50,412.70 L253.28,407.25 L249.16,412.11 L254.37,415.78 Z" fill="#262a2c" stroke="#262a2c" stroke-width="1.3" stroke-linejoin="miter"/>
<rect x="64" y="19.4" width="126" height="48" rx="16" ry="16" fill="#a8e273" stroke="#1a2e10" stroke-width="1.65"/>
<text transform="translate(80.36,46.90) scale(0.9154,1)" style="font-size:13.8px" fill="#102808">Graph Database</text>
<rect x="387" y="19.4" width="77" height="48" rx="16" ry="16" fill="#fadba9" stroke="#221c14" stroke-width="1.65"/>
<text transform="translate(400.43,47.10) scale(0.8707,1)" style="font-size:13.8px" fill="#2e2010">Traversal</text>
<rect x="12" y="133.8" width="72" height="48" rx="16" ry="16" fill="#92b8e3" stroke="#1a2a40" stroke-width="1.65"/>
<text transform="translate(25.63,160.60) scale(0.9192,1)" style="font-size:13.8px" fill="#16264a">Indexes</text>
<rect x="215" y="133.8" width="72" height="48" rx="16" ry="16" fill="#92b8e3" stroke="#1a2a40" stroke-width="1.65"/>
<text transform="translate(233.56,160.50) scale(0.9194,1)" style="font-size:13.8px" fill="#16264a">Graph</text>
<rect x="487" y="133.8" width="83" height="48" rx="16" ry="16" fill="#fadba9" stroke="#221c14" stroke-width="1.65"/>
<text transform="translate(501.87,160.50) scale(0.9364,1)" style="font-size:13.8px" fill="#2e2010">Algorithm</text>
<rect x="399" y="206" width="72" height="48" rx="16" ry="16" fill="#fadba9" stroke="#221c14" stroke-width="1.65"/>
<text transform="translate(417.72,232.70) scale(0.9507,1)" style="font-size:13.8px" fill="#2e2010">Paths</text>
<rect x="130" y="278" width="104" height="48" rx="16" ry="16" fill="#fadba9" stroke="#221c14" stroke-width="1.65"/>
<text transform="translate(142.95,305.50) scale(0.9308,1)" style="font-size:13.8px" fill="#2e2010">Relationships</text>
<rect x="171" y="392.9" width="72" height="48" rx="16" ry="16" fill="#fadba9" stroke="#221c14" stroke-width="1.65"/>
<text transform="translate(188.04,419.70) scale(0.9331,1)" style="font-size:13.8px" fill="#2e2010">Nodes</text>
<rect x="58" y="507.5" width="85" height="48" rx="16" ry="16" fill="#fadba9" stroke="#221c14" stroke-width="1.65"/>
<text transform="translate(70.95,535.10) scale(0.9255,1)" style="font-size:13.8px" fill="#2e2010">Properties</text>
<text transform="translate(79.36,104.30) scale(0.9684,1)" style="font-size:13.0px" fill="#4e1616">manages</text>
<text transform="translate(203.36,104.30) scale(0.9684,1)" style="font-size:13.0px" fill="#4e1616">manages</text>
<text transform="translate(319.18,104.30) scale(0.9518,1)" style="font-size:13.0px" fill="#2a2a2a">navigates</text>
<text transform="translate(420.94,104.30) scale(0.9846,1)" style="font-size:13.0px" fill="#2a2a2a">identifies</text>
<text transform="translate(500.35,104.30) scale(0.9927,1)" style="font-size:13.0px" fill="#2a2a2a">expresses</text>
<text transform="translate(128.25,233.30) scale(0.9835,1)" style="font-size:13.0px" fill="#2a2a2a">map to</text>
<text transform="translate(197.14,233.30) scale(0.9954,1)" style="font-size:13.0px" fill="#2a2a2a">records data in</text>
<text transform="translate(66.25,306.20) scale(0.9835,1)" style="font-size:13.0px" fill="#2a2a2a">map to</text>
<text transform="translate(293.14,306.20) scale(0.9954,1)" style="font-size:13.0px" fill="#2a2a2a">records data in</text>
<text transform="translate(439.49,306.20) scale(0.9362,1)" style="font-size:13.0px" fill="#2a2a2a">order</text>
<text transform="translate(27.36,363.20) scale(0.9759,1)" style="font-size:13.0px" fill="#2a2a2a">map from</text>
<text transform="translate(200.48,363.10) scale(0.9519,1)" style="font-size:13.0px" fill="#2a2a2a">organize</text>
<text transform="translate(122.20,420.10) scale(0.8910,1)" style="font-size:13.0px" fill="#2a2a2a">have</text>
<text transform="translate(163.20,478.10) scale(0.8910,1)" style="font-size:13.0px" fill="#2a2a2a">have</text>
<rect x="0" y="560" width="644" height="1" fill="#aab0b4"/><rect x="0" y="561" width="644" height="1" fill="#1c2529"/>
</svg></body></html>
